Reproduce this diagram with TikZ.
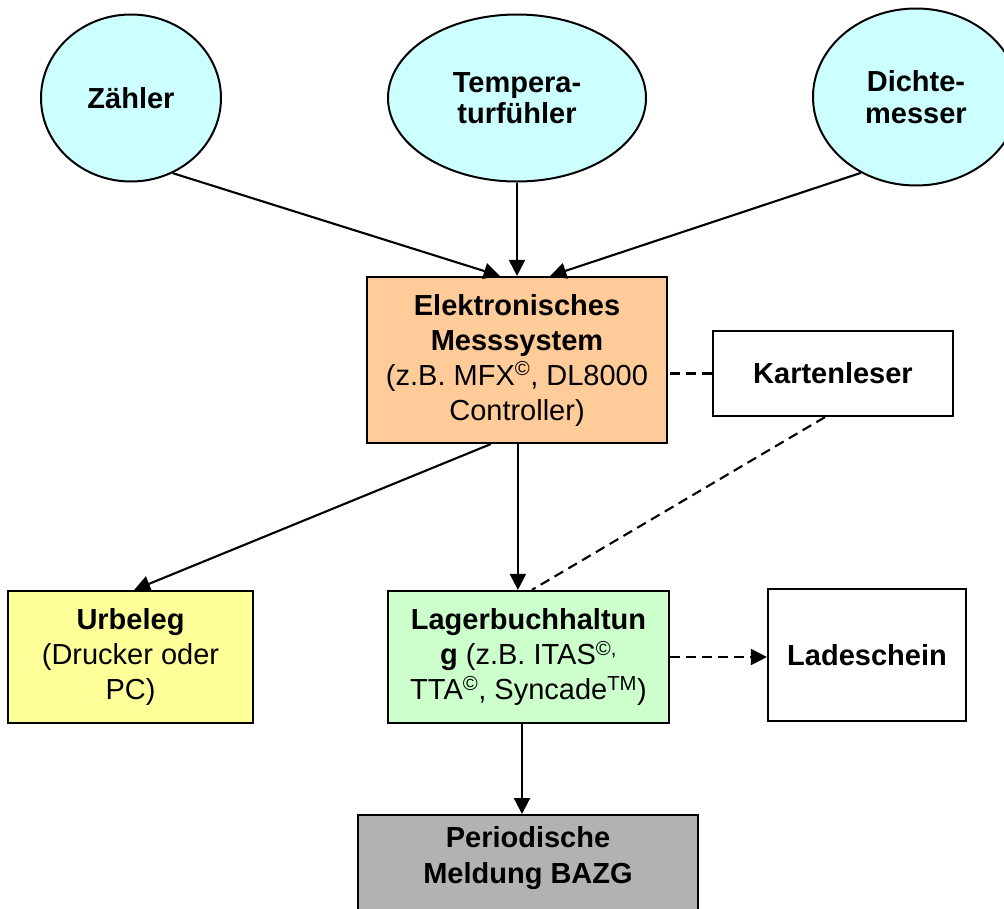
\documentclass[tikz,border=0pt]{standalone}
\usepackage{fontspec}
\setmainfont{Liberation Sans}
\usetikzlibrary{shapes.geometric,arrows.meta,calc}
\definecolor{cyanfill}{HTML}{CCFFFF}
\definecolor{orangefill}{HTML}{FFCC99}
\definecolor{yellowfill}{HTML}{FFFF99}
\definecolor{greenfill}{HTML}{CCFFCC}
\definecolor{grayfill}{HTML}{B2B2B2}
\begin{document}
\begin{tikzpicture}[x=1pt,y=-1pt,
  sensor/.style={ellipse, draw, fill=cyanfill, line width=2pt, inner sep=0pt, align=center,
    font=\fontsize{29}{31.5}\selectfont\bfseries},
  box/.style={rectangle, draw, line width=2.2pt, inner sep=0pt, align=center,
    font=\fontsize{29}{35}\selectfont},
  conn/.style={line width=2.1pt, -{Triangle[length=16pt,width=16pt]}},
  dconn/.style={conn, dash pattern=on 10pt off 6pt},
  dline/.style={line width=2.1pt, dash pattern=on 10pt off 6pt}]
\useasboundingbox (0,0) rectangle (1004,908);

% sensors
\node[sensor, minimum width=180pt, minimum height=167pt] (zaehler) at (131,98) {Zähler};
\node[sensor, minimum width=258pt, minimum height=167pt] (temp) at (517,98) {Tempera-\\turfühler};
\node[sensor, minimum width=206pt, minimum height=177pt] (dichte) at (916,97) {Dichte-\\messer};

% boxes
\node[box, fill=orangefill, minimum width=300pt, minimum height=166pt] (mess) at (517,360)
  {\textbf{Elektronisches}\\\textbf{Messsystem}\\(z.B. MFX\textsuperscript{©}, DL8000\\Controller)};
\node[box, fill=white, minimum width=240pt, minimum height=85pt] (karten) at (833,373.5)
  {\textbf{Kartenleser}};
\node[box, fill=yellowfill, minimum width=245pt, minimum height=132pt] (urbeleg) at (130.5,657)
  {\textbf{Urbeleg}\\(Drucker oder\\PC)};
\node[box, fill=greenfill, minimum width=281pt, minimum height=132pt] (lager) at (528.5,657)
  {\textbf{Lagerbuchhaltun}\\\textbf{g} (z.B. ITAS\textsuperscript{©,}\\TTA\textsuperscript{©}, Syncade\textsuperscript{TM})};
\node[box, fill=white, minimum width=198pt, minimum height=132pt] (lade) at (867,655)
  {\textbf{Ladeschein}};
\node[box, fill=grayfill, minimum width=340pt, minimum height=120pt, anchor=north,
  font=\fontsize{29}{36}\selectfont\bfseries, text depth=40pt] (meld) at (528,814)
  {Periodische\\Meldung BAZG};

% connectors
\draw[conn] (zaehler.-61) -- ($(mess.north west)!0.443!(mess.north east)$);
\draw[conn] (temp.south) -- (mess.north);
\draw[conn] (dichte.-126) -- ($(mess.north west)!0.61!(mess.north east)$);
\draw[dline] (karten.west) -- (karten.west -| mess.east);
\draw[conn] ($(mess.south west)!0.413!(mess.south east)$) -- ($(urbeleg.north west)!0.515!(urbeleg.north east)$);
\draw[conn] ($(mess.south west)!0.503!(mess.south east)$) coordinate (ms) -- (ms |- lager.north);
\draw[dline] ($(karten.south west)!0.467!(karten.south east)$) -- ($(lager.north west)!0.512!(lager.north east)$);
\draw[dconn] (lager.east) -- (lager.east -| lade.west);
\draw[conn] ($(lager.south west)!0.477!(lager.south east)$) coordinate (ls) -- (ls |- meld.north);
\end{tikzpicture}
\end{document}
